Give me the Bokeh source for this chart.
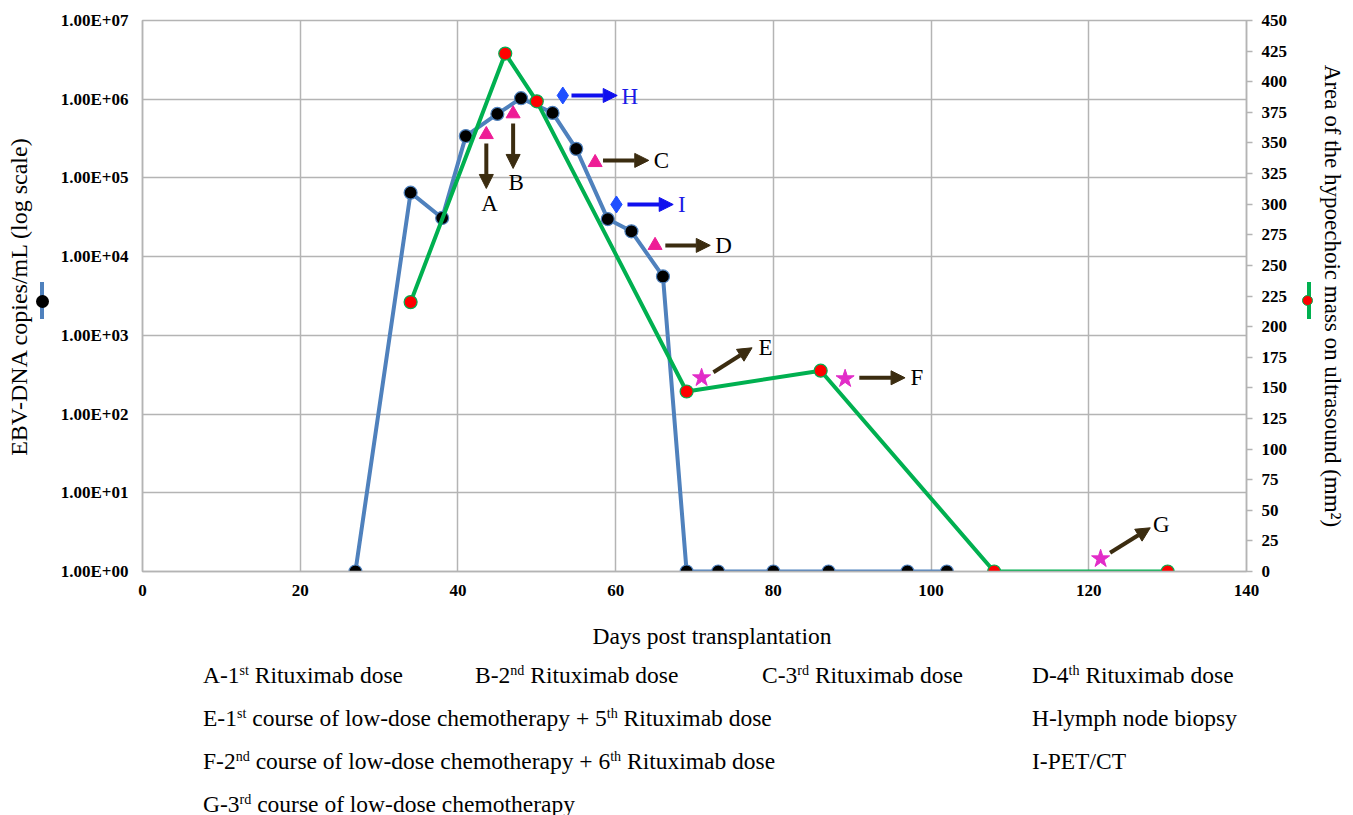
from bokeh.plotting import figure
from bokeh.models import (Range1d, LinearAxis, LinearScale, FixedTicker, Arrow, NormalHead,
                          ColumnDataSource, Div, CustomJSTickFormatter)
from bokeh.layouts import column
from bokeh.embed import file_html
from bokeh.resources import INLINE
from bokeh.core.properties import value

# ---------------- data ----------------
ebv_days = [27, 34, 38, 41, 45, 48, 52, 55, 59, 62, 66, 69, 73, 80, 87, 97, 102]
ebv_copies = [1, 65000, 31000, 340000, 650000, 1030000, 670000, 234000, 30000, 21000, 5600,
              1, 1, 1, 1, 1, 1]

us_days = [34, 46, 50, 69, 86, 108, 130]
us_area = [220, 423, 384, 147, 164, 0, 0]

x_ticks = [0, 20, 40, 60, 80, 100, 120, 140]
y_ticks = [1, 10, 100, 1000, 10000, 100000, 1000000, 10000000]
y_tick_labels = ["1.00E+00", "1.00E+01", "1.00E+02", "1.00E+03",
                 "1.00E+04", "1.00E+05", "1.00E+06", "1.00E+07"]
area_ticks = [0, 25, 50, 75, 100, 125, 150, 175, 200, 225, 250, 275, 300, 325, 350, 375, 400, 425, 450]

x_title = "Days post transplantation"
y_title = "EBV-DNA copies/mL (log scale)"
y2_title = "Area of the hypoechoic mass on ultrasound (mm\u00b2)"

# event markers (days, left-axis level)
rituximab_days = [43.6, 47.0, 57.4, 65.0]
rituximab_level = [356000, 653000, 157000, 13900]
exam_days = [53.3, 60.1]
exam_level = [1115000, 46000]
chemo_days = [70.9, 89.1, 121.5]
chemo_level = [289, 281, 1.45]

event_letters = ["A", "B", "C", "D", "H", "I", "E", "F", "G"]
event_colors = ["#000000", "#000000", "#000000", "#000000", "#1a1ae6", "#1a1ae6",
                "#000000", "#000000", "#000000"]
event_label_x = [44.0, 47.4, 65.8, 73.7, 61.8, 68.4, 79.0, 98.2, 129.2]
event_label_y = [47300, 87500, 167000, 13900, 1080000, 46000, 701, 292, 3.95]
arrow_x0 = [43.6, 47.0, 58.4, 66.3, 54.4, 61.5, 72.4, 90.9, 122.7]
arrow_y0 = [274000, 492000, 167000, 13900, 1115000, 46000, 340, 289, 1.73]
arrow_x1 = [43.6, 47.0, 64.2, 72.0, 60.2, 67.3, 77.3, 96.7, 127.8]
arrow_y1 = [73500, 132000, 167000, 13900, 1115000, 46000, 695, 289, 3.59]
arrow_colors = ["#3b2c10", "#3b2c10", "#3b2c10", "#3b2c10", "#1010ee", "#1010ee",
                "#3b2c10", "#3b2c10", "#3b2c10"]

notes = [
    "A-1<sup>st</sup> Rituximab dose",
    "B-2<sup>nd</sup> Rituximab dose",
    "C-3<sup>rd</sup> Rituximab dose",
    "D-4<sup>th</sup> Rituximab dose",
    "E-1<sup>st</sup> course of low-dose chemotherapy + 5<sup>th</sup> Rituximab dose",
    "H-lymph node biopsy",
    "F-2<sup>nd</sup> course of low-dose chemotherapy + 6<sup>th</sup> Rituximab dose",
    "I-PET/CT",
    "G-3<sup>rd</sup> course of low-dose chemotherapy",
]
note_col = [0, 1, 2, 3, 0, 3, 0, 3, 0]
note_row = [0, 0, 0, 0, 1, 1, 2, 2, 3]

# ---------------- styling ----------------
SERIF = "Liberation Serif"
GRID = "#b4b4b4"
BLUE = "#4f81bd"
GREEN = "#00b050"
FIG_H = 650

p = figure(width=1348, height=FIG_H, x_range=Range1d(0, 140), y_range=Range1d(1, 1e7),
           y_axis_type="log", output_backend="svg", toolbar_location=None,
           min_border_left=142, min_border_right=101, min_border_top=20, min_border_bottom=79)
p.outline_line_color = GRID
p.outline_line_width = 1.5
p.background_fill_color = "white"
p.border_fill_color = "white"

p.extra_y_ranges = {"area": Range1d(0, 450)}
p.extra_y_scales = {"area": LinearScale()}

# grid
p.xgrid.ticker = FixedTicker(ticks=x_ticks)
p.ygrid.ticker = FixedTicker(ticks=y_ticks)
for g in (p.xgrid[0], p.ygrid[0]):
    g.grid_line_color = GRID
    g.grid_line_width = 1.5

# left axis
ya = p.yaxis[0]
ya.ticker = FixedTicker(ticks=y_ticks)
ya.formatter = CustomJSTickFormatter(args=dict(tvals=y_ticks, tlabels=y_tick_labels), code="""
const i = tvals.findIndex(t => Math.abs(Math.log10(t) - Math.log10(tick)) < 1e-6);
return i >= 0 ? tlabels[i] : "";
""")
ya.axis_label = y_title

# bottom axis (title is placed in the notes block so it can sit off-centre like the original)
xa = p.xaxis[0]
xa.ticker = FixedTicker(ticks=x_ticks)

# right axis
ra = LinearAxis(y_range_name="area", ticker=FixedTicker(ticks=area_ticks), axis_label=y2_title)
p.add_layout(ra, "right")

for ax in (xa, ya, ra):
    ax.axis_line_color = GRID
    ax.axis_line_width = 1.5
    ax.major_tick_line_color = None
    ax.minor_tick_line_color = None
    ax.major_tick_in = 0
    ax.major_tick_out = 0
    ax.minor_tick_out = 0
    ax.major_label_text_font = SERIF
    ax.major_label_text_font_size = "17px"
    ax.major_label_text_font_style = "bold"
    ax.major_label_text_color = "#000000"
    ax.axis_label_text_font = SERIF
    ax.axis_label_text_font_style = "normal"
    ax.axis_label_text_color = "#000000"

ra.major_tick_line_color = GRID
ra.major_tick_line_width = 1.5
ra.major_tick_out = 6
ra.major_label_standoff = 9
ra.axis_label_text_font_size = "23px"
ra.axis_label_standoff = 30

ya.major_label_standoff = 14
ya.axis_label_text_font_size = "24px"
ya.axis_label_standoff = 26

xa.major_label_standoff = 13

# ---------------- series ----------------
p.line(ebv_days, ebv_copies, line_color=BLUE, line_width=4)
p.scatter(ebv_days, ebv_copies, marker="circle", size=13, fill_color="black",
          line_color=BLUE, line_width=1.2)

p.line(us_days, us_area, y_range_name="area", line_color=GREEN, line_width=4)
p.scatter(us_days, us_area, y_range_name="area", marker="circle", size=13,
          fill_color="#ff0000", line_color=GREEN, line_width=1.2)

# event markers
p.scatter(rituximab_days, rituximab_level, marker="triangle", size=14,
          fill_color="#ee1c96", line_color="#ee1c96")
p.scatter(exam_days, exam_level, marker="diamond", size=17,
          fill_color="#1f4fff", line_color="#1f4fff")
p.scatter(chemo_days, chemo_level, marker="star", size=19,
          fill_color="#e22cc8", line_color="#e22cc8")

for x0, y0, x1, y1, c in zip(arrow_x0, arrow_y0, arrow_x1, arrow_y1, arrow_colors):
    p.add_layout(Arrow(x_start=x0, y_start=y0, x_end=x1, y_end=y1,
                       line_color=c, line_width=4,
                       end=NormalHead(size=14, fill_color=c, line_color=c, line_width=1)))

lab_src = ColumnDataSource(dict(x=event_label_x, y=event_label_y, t=event_letters, c=event_colors))
p.text(x="x", y="y", text="t", source=lab_src, text_color="c",
       text_font=value(SERIF), text_font_size="23px",
       text_align="center", text_baseline="middle")

# ---------------- notes block (below the figure) ----------------
col_left = [198, 470, 757, 1027]
parts = []
# x-axis title, centred a little right of the plot centre as in the original
parts.append(f'<div style="position:absolute;left:507px;width:400px;top:-41px;height:44px;'
             f'line-height:44px;text-align:center;white-space:nowrap;">{x_title}</div>')
# series keys next to the two axis titles
parts.append(f'<div style="position:absolute;left:35px;top:{277 - FIG_H}px;width:4px;height:37px;'
             f'background:{BLUE};"></div>')
parts.append(f'<div style="position:absolute;left:30.5px;top:{289.5 - FIG_H}px;width:13px;height:13px;'
             f'border-radius:50%;background:#000;"></div>')
parts.append(f'<div style="position:absolute;left:1302px;top:{277 - FIG_H}px;width:4px;height:37px;'
             f'background:{GREEN};"></div>')
parts.append(f'<div style="position:absolute;left:1296.5px;top:{289.5 - FIG_H}px;width:11px;height:11px;'
             f'border-radius:50%;background:#ff0000;border:1px solid {GREEN};"></div>')
for txt, c, r in zip(notes, note_col, note_row):
    parts.append(
        f'<div style="position:absolute;left:{col_left[c]}px;top:{r * 43 - 2}px;'
        f'height:44px;line-height:44px;white-space:nowrap;">{txt}</div>')
html = ('<style>sup{font-size:0.6em;line-height:0;vertical-align:baseline;position:relative;top:-0.55em;}</style>'
        '<div style="position:relative;width:1348px;height:157px;overflow:visible;'
        f'font-family:\'{SERIF}\';font-size:23.5px;color:#000;">' + "".join(parts) + '</div>')
div = Div(text=html, width=1348, height=157, styles={"overflow": "visible"})

layout = column(p, div, spacing=0)
open("out.html", "w").write(file_html(layout, INLINE))
